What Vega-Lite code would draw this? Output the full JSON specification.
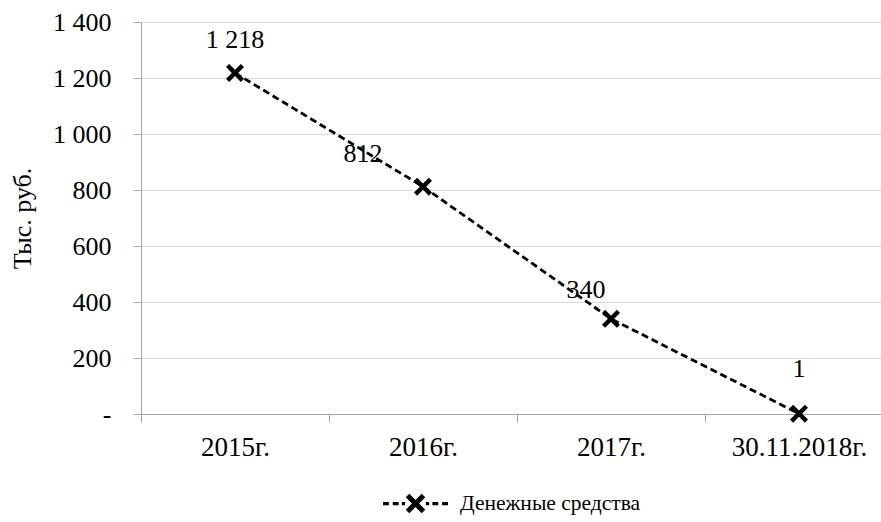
{
  "$schema": "https://vega.github.io/schema/vega-lite/v6.json",
  "width": 740,
  "height": 392,
  "autosize": {"type": "none"},
  "padding": {"left": 141, "top": 22, "right": 0, "bottom": 108},
  "background": "white",
  "config": {
    "view": {"stroke": null},
    "font": "Liberation Serif",
    "locale": {"number": {"decimal": ",", "thousands": " ", "grouping": [3], "currency": ["", ""]}}
  },
  "data": {
    "values": [
      {"year": "2015г.", "value": 1218, "series": "Денежные средства"},
      {"year": "2016г.", "value": 812, "series": "Денежные средства"},
      {"year": "2017г.", "value": 340, "series": "Денежные средства"},
      {"year": "30.11.2018г.", "value": 1, "series": "Денежные средства"}
    ]
  },
  "encoding": {
    "x": {
      "field": "year", "type": "nominal", "sort": null,
      "scale": {"type": "band", "range": [0, 752], "paddingInner": 0, "paddingOuter": 0},
      "axis": {
        "title": null, "labelAngle": 0, "labelFont": "Liberation Serif", "labelFontSize": 27, "labelColor": "#000000",
        "labelBaseline": "top", "labelPadding": 12,
        "tickBand": "extent", "tickSize": 8, "tickColor": "#a6a6a6", "domainColor": "#a6a6a6", "grid": false
      }
    },
    "y": {
      "field": "value", "type": "quantitative",
      "scale": {"domain": [0, 1400], "nice": false, "zero": true},
      "axis": {
        "title": "Тыс. руб.", "titleFont": "Liberation Serif", "titleFontSize": 26, "titleFontWeight": "normal", "titleColor": "#000000",
        "titleAngle": -90, "titleX": -119, "titleY": 196, "titleAlign": "center", "titleBaseline": "middle",
        "values": [0, 200, 400, 600, 800, 1000, 1200, 1400],
        "format": ",.0f", "labelExpr": "datum.value == 0 ? '-' : datum.label",
        "labelFont": "Liberation Serif", "labelFontSize": 26, "labelColor": "#000000", "labelPadding": 22,
        "tickSize": 8, "tickColor": "#a6a6a6", "domainColor": "#a6a6a6",
        "grid": true, "gridColor": "#d9d9d9", "gridWidth": 1
      }
    }
  },
  "layer": [
    {
      "mark": {"type": "line", "color": "#000000", "strokeWidth": 2.8, "strokeDash": [7, 4]},
      "encoding": {}
    },
    {
      "mark": {"type": "point", "filled": true, "opacity": 1, "size": 324,
               "shape": "M-1,-0.65L-0.65,-1L0,-0.35L0.65,-1L1,-0.65L0.35,0L1,0.65L0.65,1L0,0.35L-0.65,1L-1,0.65L-0.35,0Z"},
      "encoding": {
        "color": {
          "field": "series", "type": "nominal",
          "scale": {"range": ["#000000"]},
          "legend": {
            "title": null, "orient": "none", "legendX": 242, "legendY": 449, "padding": 0,
            "symbolType": "M-1,-0.05L-0.82,-0.05L-0.82,0.05L-1,0.05ZM-0.7,-0.05L-0.52,-0.05L-0.52,0.05L-0.7,0.05ZM-0.42,-0.05L-0.32,-0.05L-0.32,0.05L-0.42,0.05ZM0.32,-0.05L0.42,-0.05L0.42,0.05L0.32,0.05ZM0.52,-0.05L0.7,-0.05L0.7,0.05L0.52,0.05ZM0.82,-0.05L1,-0.05L1,0.05L0.82,0.05ZM-0.3,-0.19L-0.19,-0.3L0,-0.11L0.19,-0.3L0.3,-0.19L0.11,0L0.3,0.19L0.19,0.3L0,0.11L-0.19,0.3L-0.3,0.19L-0.11,0Z",
            "symbolSize": 4225, "symbolFillColor": "#000000", "symbolStrokeWidth": 0, "symbolOpacity": 1,
            "labelFont": "Liberation Serif", "labelFontSize": 21.5, "labelColor": "#000000", "labelOffset": 12, "labelLimit": 0
          }
        }
      }
    },
    {
      "transform": [{"filter": "datum.year == '2015г.'"}],
      "mark": {"type": "text", "fontSize": 26, "font": "Liberation Serif", "color": "#000000", "dx": 0, "dy": -33, "baseline": "middle"},
      "encoding": {"text": {"field": "value", "type": "quantitative", "format": ","}}
    },
    {
      "transform": [{"filter": "datum.year == '2016г.'"}],
      "mark": {"type": "text", "fontSize": 26, "font": "Liberation Serif", "color": "#000000", "dx": -60, "dy": -33, "baseline": "middle"},
      "encoding": {"text": {"field": "value", "type": "quantitative", "format": ","}}
    },
    {
      "transform": [{"filter": "datum.year == '2017г.'"}],
      "mark": {"type": "text", "fontSize": 26, "font": "Liberation Serif", "color": "#000000", "dx": -25, "dy": -29, "baseline": "middle"},
      "encoding": {"text": {"field": "value", "type": "quantitative", "format": ","}}
    },
    {
      "transform": [{"filter": "datum.year == '30.11.2018г.'"}],
      "mark": {"type": "text", "fontSize": 26, "font": "Liberation Serif", "color": "#000000", "dx": 0, "dy": -45, "baseline": "middle"},
      "encoding": {"text": {"field": "value", "type": "quantitative", "format": ","}}
    }
  ]
}
